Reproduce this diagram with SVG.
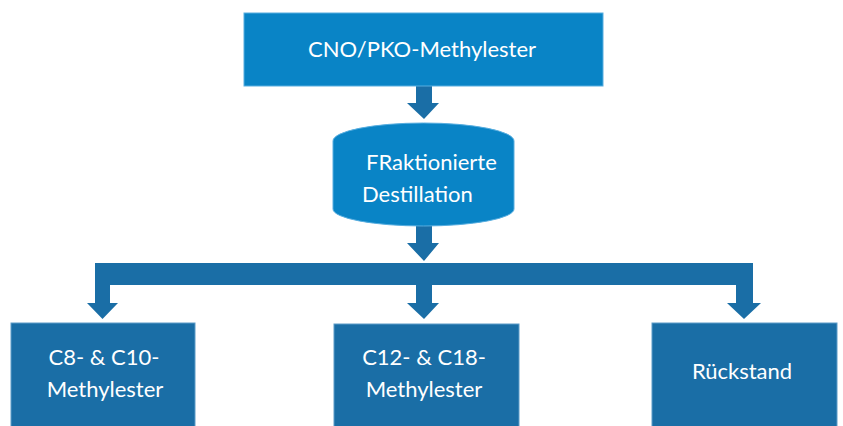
<svg xmlns="http://www.w3.org/2000/svg" width="843" height="426" viewBox="0 0 843 426">
  <style>
    .lbl { font-family: Lato, "Open Sans", sans-serif; font-size: 22px; fill: #ffffff; }
    .mid { text-anchor: middle; }
    .light { fill: #0984c6; stroke: #58aee0; stroke-width: 1; }
    .dark { fill: #1a6ea6; stroke: #5c9cc8; stroke-width: 1; }
    .conn { fill: #1a6ea6; }
  </style>
  <rect width="843" height="426" fill="#ffffff"/>

  <g id="connectors">
    <!-- source to distillation -->
    <polygon class="conn" points="416,86 432,86 432,103 439,103 424,119 407,103 416,103"/>
    <!-- distillation down to splitter -->
    <polygon class="conn" points="416,224 432,224 432,243 439,243 424,261 407,243 416,243"/>
    <!-- splitter bar with three branches -->
    <polygon class="conn" points="95,263 753,263 753,303 761,303 744,319 727,303 736,303 736,285 432,285 432,303 439,303 424,319 407,303 416,303 416,285 110,285 110,303 118,303 102.5,319 87,303 95,303"/>
  </g>

  <g id="source">
    <rect class="light" x="244" y="13" width="359" height="73"/>
    <text class="lbl mid" x="422" y="57">CNO/PKO-Methylester</text>
  </g>

  <g id="distillation">
    <path class="light" d="M333,141 A90.5,18 0 0 1 514,141 L514,209 A90.5,17 0 0 1 333,209 Z"/>
    <text class="lbl" x="366" y="170">FRaktionierte</text>
    <text class="lbl" x="362" y="202">Destillation</text>
  </g>

  <g id="c8-c10">
    <rect class="dark" x="11" y="323" width="184" height="110"/>
    <text class="lbl mid" x="104" y="365">C8- &amp; C10-</text>
    <text class="lbl mid" x="105" y="397">Methylester</text>
  </g>

  <g id="c12-c18">
    <rect class="dark" x="334" y="324" width="185" height="110"/>
    <text class="lbl mid" x="424" y="365">C12- &amp; C18-</text>
    <text class="lbl mid" x="424" y="397">Methylester</text>
  </g>

  <g id="residue">
    <rect class="dark" x="652" y="323" width="185" height="110"/>
    <text class="lbl mid" x="742" y="379">Rückstand</text>
  </g>
</svg>
